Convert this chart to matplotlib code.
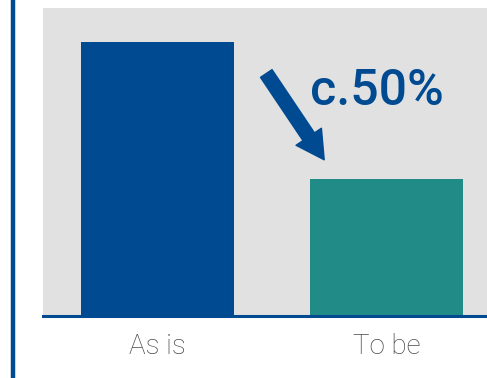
import matplotlib.pyplot as plt
from matplotlib.lines import Line2D

# Data
categories = ['As is', 'To be']
values = [100, 50]
bar_colors = ['#004A91', '#218C87']
change_label = 'c.50%'

BLUE = '#004A91'

fig = plt.figure(figsize=(4.87, 3.78), dpi=100)
ax = fig.add_axes([43 / 487, 1 - 316 / 378, 444 / 487, 308 / 378])
ax.set_facecolor('#E1E1E1')

x = range(len(categories))
ax.bar(x, values, width=0.668, color=bar_colors, zorder=2)

ax.set_xlim(-0.5, 1.439)
ax.set_ylim(0, 112.4)
ax.set_yticks([])
ax.set_xticks(list(x))
ax.set_xticklabels(categories, fontsize=20, color='#4a4a4a',
                   fontfamily='Roboto', fontweight='light')
ax.tick_params(axis='x', length=0, pad=12)

for side in ['top', 'right', 'left']:
    ax.spines[side].set_visible(False)
ax.spines['bottom'].set_color(BLUE)
ax.spines['bottom'].set_linewidth(2.2)

# arrow showing the reduction
ax.annotate('', xy=(0.728, 57.0), xytext=(0.475, 88.5),
            arrowprops=dict(arrowstyle='simple,head_length=1.0,head_width=1.1,tail_width=0.5',
                            color=BLUE, shrinkA=0, shrinkB=0, mutation_scale=20))
ax.text(0.667, 82.0, change_label, fontsize=36, color=BLUE, fontfamily='Roboto',
        fontweight='medium', ha='left', va='center')

# vertical rule on the left
fig.add_artist(Line2D([12.5 / 487, 12.5 / 487], [0, 1], color=BLUE, linewidth=3.2))

fig.savefig('out.png', dpi=100)
